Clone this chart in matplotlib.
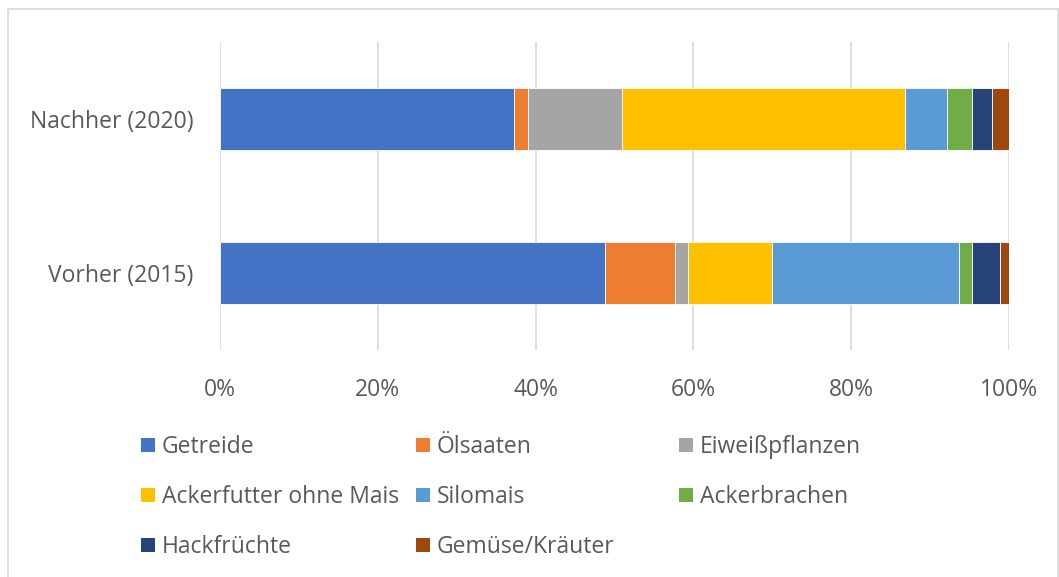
import matplotlib
matplotlib.use("Agg")
import matplotlib.pyplot as plt
from matplotlib.patches import Rectangle

categories = ["Vorher (2015)", "Nachher (2020)"]
series = ["Getreide", "Ölsaaten", "Eiweißpflanzen", "Ackerfutter ohne Mais",
          "Silomais", "Ackerbrachen", "Hackfrüchte", "Gemüse/Kräuter"]
vorher = [48.8, 8.9, 1.6, 10.6, 23.7, 1.7, 3.5, 1.2]
nachher = [37.3, 1.8, 11.8, 35.9, 5.3, 3.2, 2.5, 2.3]
colors = ["#4472C4", "#ED7D31", "#A5A5A5", "#FFC000", "#5B9BD5", "#70AD47",
          "#264478", "#9E480E"]
xticks = [0, 20, 40, 60, 80, 100]
xticklabels = ["0%", "20%", "40%", "60%", "80%", "100%"]

W, H = 1059, 577
FS = 16.5
plt.rcParams['font.family'] = ['Open Sans', 'DejaVu Sans']
fig = plt.figure(figsize=(W / 100, H / 100), dpi=100)
ax = fig.add_axes([220 / W, 1 - 350 / H, (1009 - 220) / W, (350 - 42) / H])

text_color = "#595959"
values = [vorher, nachher]
left = [0.0, 0.0]
for i, name in enumerate(series):
    widths = [values[0][i], values[1][i]]
    ax.barh([0, 1], widths, left=left, height=0.4, color=colors[i],
            edgecolor="white", linewidth=0.6, zorder=3, label=name)
    left = [left[0] + widths[0], left[1] + widths[1]]

ax.set_xlim(0, 100)
ax.set_ylim(-0.5, 1.5)
ax.set_xticks(xticks)
ax.set_xticklabels(xticklabels, fontsize=FS, color=text_color)
ax.set_yticks([0, 1])
ax.set_yticklabels(categories, fontsize=FS, color=text_color)
ax.tick_params(axis="both", length=0)
ax.tick_params(axis="x", pad=20)
ax.tick_params(axis="y", pad=19)
ax.grid(axis="x", color="#d9d9d9", linewidth=1.2, zorder=0)
for s in ax.spines.values():
    s.set_visible(False)

# legend (manual, Excel-like equal columns)
col_x = [141, 416, 679]
row_y = [445, 495, 545]
sq = 14
for i, name in enumerate(series):
    r, c = divmod(i, 3)
    x0 = col_x[c]
    yc = row_y[r]
    fig.add_artist(Rectangle((x0 / W, 1 - (yc + sq / 2) / H), sq / W, sq / H,
                             transform=fig.transFigure, facecolor=colors[i],
                             edgecolor="none"))
    fig.text((x0 + sq + 7) / W, 1 - (yc + 2) / H, name, fontsize=FS,
             color=text_color, va="center", ha="left")

# chart border
fig.add_artist(Rectangle((8 / W, -0.01), (W - 9) / W, 1 - 9 / H + 0.01,
                         transform=fig.transFigure, facecolor="none",
                         edgecolor="#d9d9d9", linewidth=1.2))

fig.savefig("out.png", dpi=100)
